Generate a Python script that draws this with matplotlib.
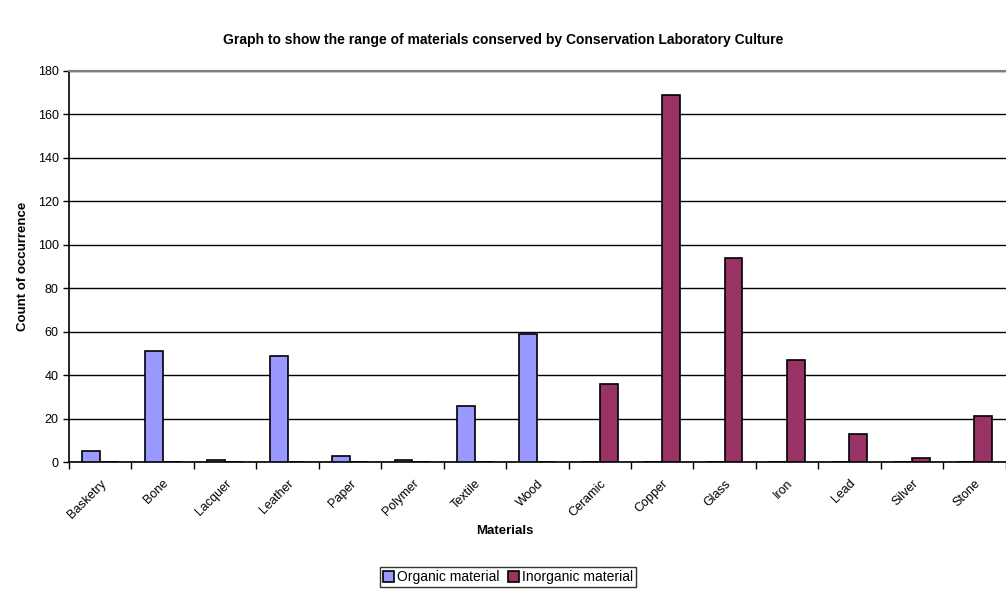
import numpy as np
import matplotlib
matplotlib.use("Agg")
import matplotlib.pyplot as plt

plt.rcParams['font.family'] = ['Liberation Sans', 'DejaVu Sans']

materials = ['Basketry', 'Bone', 'Lacquer', 'Leather', 'Paper', 'Polymer', 'Textile',
             'Wood', 'Ceramic', 'Copper', 'Glass', 'Iron', 'Lead', 'Silver', 'Stone']
organic = [5, 51, 1, 49, 3, 1, 26, 59, 0, 0, 0, 0, 0, 0, 0]
inorganic = [0, 0, 0, 0, 0, 0, 0, 0, 36, 169, 94, 47, 13, 2, 21]

fig = plt.figure(figsize=(10.06, 6.12), dpi=100)
ax = fig.add_axes([0.0686, 0.245, 0.931, 0.639])

x = np.arange(len(materials))
w = 2 / 7
ax.bar(x - w / 2, organic, w, color='#9999ff', edgecolor='black', linewidth=1.2,
       label='Organic material', zorder=3)
ax.bar(x + w / 2, inorganic, w, color='#993366', edgecolor='black', linewidth=1.2,
       label='Inorganic material', zorder=3)

ax.set_xlim(-0.5, len(materials) - 0.5)
ax.set_ylim(0, 180)
ax.set_yticks(range(0, 181, 20))
ax.yaxis.grid(True, color='black', linewidth=1)
ax.set_axisbelow(True)

# ticks between categories, labels in the middle
ax.set_xticks(np.arange(-0.5, len(materials), 1))
ax.set_xticklabels([])
ax.set_xticks(x, minor=True)
ax.set_xticklabels(materials, minor=True, rotation=45, ha='right', va='top',
                   rotation_mode='anchor', fontsize=9)
ax.tick_params(axis='x', which='minor', length=0, pad=11)
ax.tick_params(axis='x', which='major', length=5, width=1, direction='out')
ax.tick_params(axis='y', length=4, width=1, labelsize=9)

ax.spines['right'].set_visible(False)
ax.spines['top'].set_color('#808080')
ax.spines['top'].set_linewidth(1.5)
ax.spines['left'].set_linewidth(1.2)
ax.spines['bottom'].set_linewidth(1.2)

ax.set_ylabel('Count of occurrence', fontsize=9.5, fontweight='bold', labelpad=6)
fig.text(0.502, 0.133, 'Materials', ha='center', va='center', fontsize=9.5, fontweight='bold')
fig.text(0.5, 0.935, 'Graph to show the range of materials conserved by Conservation Laboratory Culture',
         ha='center', va='center', fontsize=10, fontweight='bold')

leg = fig.legend(loc='center', bbox_to_anchor=(0.505, 0.057), ncol=2, fontsize=10,
                 frameon=True, fancybox=False, edgecolor='black', handlelength=0.8,
                 handleheight=0.8, handletextpad=0.2, columnspacing=0.6,
                 borderpad=0.2, borderaxespad=0)
leg.get_frame().set_linewidth(1)

fig.savefig('out.png', dpi=100)
